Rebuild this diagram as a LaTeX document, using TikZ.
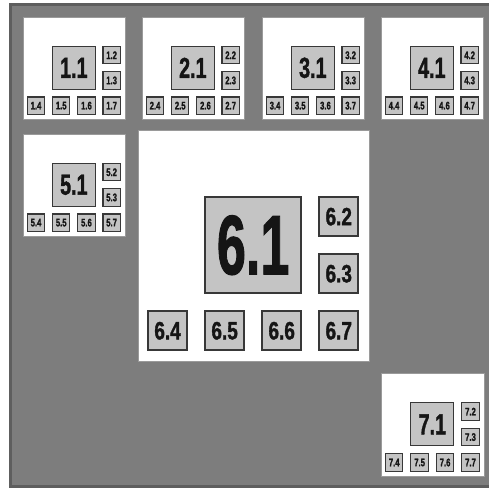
\documentclass[tikz,border=0pt]{standalone}
\usepackage{fontspec}
\setmainfont{Liberation Sans}
\newfontfamily\heavyfont[FakeBold=1.6]{Liberation Sans Bold}
\usepackage{graphicx}
\definecolor{bggray}{HTML}{7D7D7D}
\definecolor{framegray}{HTML}{5E5E5E}
\definecolor{boxgray}{HTML}{C4C4C4}
\definecolor{inkdark}{HTML}{151515}
\definecolor{paneledge}{HTML}{9A9A9A}
\tikzset{
  panelbox/.style={draw=paneledge, line width=1pt, fill=white, anchor=north west, inner sep=0pt, outer sep=0pt},
  cellbox/.style={draw=inkdark!85, fill=boxgray, anchor=north west, inner sep=0pt, outer sep=0pt, text=inkdark},
}
% #1 id, #2 x, #3 y, #4 size, #5 big fs, #6 big xscale, #7 small fs, #8 small xscale, #9 line width
\newcommand\mkpanel[9]{%
  \pgfmathsetmacro\pS{#4}%
  \pgfmathsetmacro\pb{0.17*\pS}%
  \pgfmathsetmacro\pB{0.417*\pS}%
  \pgfmathsetmacro\oA{#2+0.043*\pS}\pgfmathsetmacro\oB{#2+0.29*\pS}%
  \pgfmathsetmacro\oC{#2+0.537*\pS}\pgfmathsetmacro\oD{#2+0.784*\pS}%
  \pgfmathsetmacro\rA{#3+0.29*\pS}\pgfmathsetmacro\rB{#3+0.537*\pS}%
  \pgfmathsetmacro\rC{#3+0.784*\pS}%
  \node[panelbox, minimum width=\pS pt, minimum height=\pS pt] (p#1) at (#2,#3) {};
  \node[cellbox, line width=#9pt, minimum width=\pB pt, minimum height=\pB pt] (p#1b1) at (\oB,\rA)
    {\scalebox{#6}[1]{\fontsize{#5}{#5}\selectfont\heavyfont #1.1}};
  \node[cellbox, line width=#9pt, minimum width=\pb pt, minimum height=\pb pt] (p#1b2) at (\oD,\rA)
    {\scalebox{#8}[1]{\fontsize{#7}{#7}\selectfont\heavyfont #1.2}};
  \node[cellbox, line width=#9pt, minimum width=\pb pt, minimum height=\pb pt] (p#1b3) at (\oD,\rB)
    {\scalebox{#8}[1]{\fontsize{#7}{#7}\selectfont\heavyfont #1.3}};
  \node[cellbox, line width=#9pt, minimum width=\pb pt, minimum height=\pb pt] (p#1b4) at (\oA,\rC)
    {\scalebox{#8}[1]{\fontsize{#7}{#7}\selectfont\heavyfont #1.4}};
  \node[cellbox, line width=#9pt, minimum width=\pb pt, minimum height=\pb pt] (p#1b5) at (\oB,\rC)
    {\scalebox{#8}[1]{\fontsize{#7}{#7}\selectfont\heavyfont #1.5}};
  \node[cellbox, line width=#9pt, minimum width=\pb pt, minimum height=\pb pt] (p#1b6) at (\oC,\rC)
    {\scalebox{#8}[1]{\fontsize{#7}{#7}\selectfont\heavyfont #1.6}};
  \node[cellbox, line width=#9pt, minimum width=\pb pt, minimum height=\pb pt] (p#1b7) at (\oD,\rC)
    {\scalebox{#8}[1]{\fontsize{#7}{#7}\selectfont\heavyfont #1.7}};
}
\begin{document}
\begin{tikzpicture}[x=1pt,y=-1pt]
  \useasboundingbox (0,0) rectangle (489,488);
  \fill[white] (0,0) rectangle (489,488);
  \fill[bggray] (9,3) rectangle (489,488);
  \draw[framegray, line width=3pt] (489,4.5) -- (10.5,4.5) -- (10.5,486.5) -- (489,486.5);
  \mkpanel{1}{23}{17}{102}{29}{0.68}{11}{0.7}{1.1}
  \mkpanel{2}{142}{17}{102}{29}{0.68}{11}{0.7}{1.1}
  \mkpanel{3}{262}{17}{102}{29}{0.68}{11}{0.7}{1.1}
  \mkpanel{4}{381}{17}{102}{29}{0.68}{11}{0.7}{1.1}
  \mkpanel{5}{23}{134}{102}{29}{0.68}{11}{0.7}{1.1}
  \mkpanel{6}{138}{130}{231}{84}{0.62}{25}{0.76}{1.8}
  \mkpanel{7}{381}{373}{103}{29}{0.68}{11}{0.7}{1.1}
\end{tikzpicture}
\end{document}
